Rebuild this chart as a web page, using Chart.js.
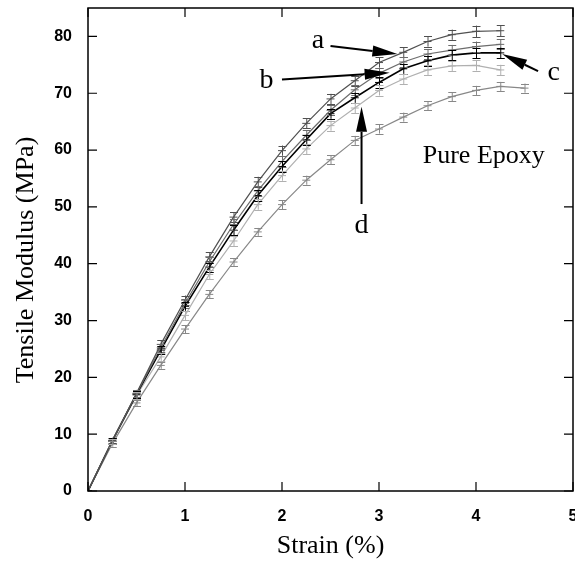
<!DOCTYPE html>
<html>
<head>
<meta charset="utf-8">
<script src="https://cdn.jsdelivr.net/npm/chart.js@4.4.1/dist/chart.umd.min.js"></script>
<style>
  html, body { margin: 0; padding: 0; background: #fff; }
</style>
</head>
<body>
<canvas id="chart" width="575" height="568"></canvas>
<script>
// strain (%) steps
const strain = [0, 0.25, 0.5, 0.75, 1, 1.25, 1.5, 1.75, 2, 2.25, 2.5, 2.75, 3, 3.25, 3.5, 3.75, 4, 4.25];
const strainEpoxy = [0, 0.25, 0.5, 0.75, 1, 1.25, 1.5, 1.75, 2, 2.25, 2.5, 2.75, 3, 3.25, 3.5, 3.75, 4, 4.25, 4.5];

// tensile modulus (MPa)
const modA = [0, 8.9, 17.2, 25.8, 33.6, 41.2, 48.2, 54.4, 59.9, 64.7, 69.0, 72.2, 75.4, 77.2, 79.1, 80.3, 80.9, 81.0];
const modB = [0, 8.8, 17.1, 25.2, 33.0, 40.3, 46.9, 52.8, 58.0, 62.6, 67.0, 70.6, 73.5, 75.5, 76.9, 77.6, 78.2, 78.6];
const modC = [0, 8.8, 17.0, 24.8, 32.5, 39.4, 45.9, 52.0, 57.1, 61.8, 66.4, 69.2, 71.9, 74.3, 75.7, 76.7, 77.1, 77.1];
const modD = [0, 8.7, 16.8, 23.6, 30.9, 38.1, 44.0, 50.4, 55.5, 60.2, 64.3, 67.4, 70.5, 72.5, 74.1, 74.8, 74.9, 74.1];
const modEpoxy = [0, 8.3, 15.5, 22.1, 28.5, 34.6, 40.3, 45.6, 50.4, 54.7, 58.3, 61.7, 63.7, 65.8, 67.8, 69.4, 70.5, 71.2, 70.9];

// error bar half widths
const errA = [0, 0.5, 0.6, 0.7, 0.8, 0.8, 0.9, 0.9, 0.9, 0.9, 0.9, 0.9, 0.9, 0.9, 0.9, 0.9, 1.0, 1.0];
const errB = [0, 0.5, 0.6, 0.7, 0.8, 0.8, 0.9, 0.9, 0.9, 0.9, 0.9, 0.9, 0.9, 0.9, 0.9, 0.9, 0.9, 0.9];
const errC = [0, 0.5, 0.6, 0.7, 0.8, 0.8, 0.9, 0.9, 0.9, 0.9, 0.9, 0.9, 0.9, 0.9, 0.9, 0.9, 0.9, 0.9];
const errD = [0, 0.5, 0.6, 0.7, 0.8, 0.8, 0.9, 0.9, 0.9, 0.9, 0.9, 0.9, 0.9, 0.9, 0.9, 0.9, 0.9, 0.9];
const errEpoxy = [0, 0.5, 0.6, 0.6, 0.7, 0.7, 0.7, 0.7, 0.8, 0.8, 0.8, 0.8, 0.8, 0.8, 0.8, 0.8, 0.8, 0.8, 0.8];

const xTicks = [0, 1, 2, 3, 4, 5];
const yTicks = [0, 10, 20, 30, 40, 50, 60, 70, 80];

// labels and arrows, in data units
const notes = [
  { text: "a", at: [2.37, 78.0], from: [2.50, 78.3], to: [3.19, 76.9] },
  { text: "b", at: [1.84, 71.0], from: [2.00, 72.4], to: [3.11, 73.6] },
  { text: "c", at: [4.80, 72.4], from: [4.64, 73.9], to: [4.27, 76.9] },
  { text: "d", at: [2.82, 45.4], from: [2.82, 50.5], to: [2.82, 67.6] },
  { text: "Pure Epoxy", at: [4.08, 57.7] }
];

function pts(xs, ys) {
  return xs.map((x, i) => ({ x: x, y: ys[i] }));
}

function ds(label, xs, ys, err, color, width) {
  return {
    label: label,
    data: pts(xs, ys),
    err: err,
    borderColor: color,
    backgroundColor: color,
    borderWidth: width,
    pointStyle: "line",
    pointRadius: 4,
    pointBorderWidth: 1,
    pointBorderColor: color,
    tension: 0,
    showLine: true,
    fill: false
  };
}

function noPad(s) {
  s.paddingTop = 0;
  s.paddingBottom = 0;
  s.paddingLeft = 0;
  s.paddingRight = 0;
}

const errorBars = {
  id: "errorBars",
  afterDatasetsDraw(chart) {
    const ctx = chart.ctx;
    const y = chart.scales.y;
    chart.data.datasets.forEach((d, i) => {
      const meta = chart.getDatasetMeta(i);
      ctx.save();
      ctx.strokeStyle = d.borderColor;
      ctx.lineWidth = 1;
      meta.data.forEach((p, j) => {
        const e = d.err[j];
        if (!e) return;
        const v = d.data[j].y;
        const top = y.getPixelForValue(v + e);
        const bot = y.getPixelForValue(v - e);
        ctx.beginPath();
        ctx.moveTo(p.x + 0.5, top);
        ctx.lineTo(p.x + 0.5, bot);
        ctx.moveTo(p.x - 3.5, Math.round(top) + 0.5);
        ctx.lineTo(p.x + 4.5, Math.round(top) + 0.5);
        ctx.moveTo(p.x - 3.5, Math.round(bot) + 0.5);
        ctx.lineTo(p.x + 4.5, Math.round(bot) + 0.5);
        ctx.stroke();
      });
      ctx.restore();
    });
  }
};

const frame = {
  id: "frame",
  afterDraw(chart) {
    const ctx = chart.ctx;
    const a = chart.chartArea;
    const xs = chart.scales.x;
    const ys = chart.scales.y;
    ctx.save();
    ctx.strokeStyle = "#000";
    ctx.lineWidth = 1.5;
    ctx.strokeRect(a.left, a.top, a.right - a.left, a.bottom - a.top);
    ctx.lineWidth = 1.2;
    ctx.beginPath();
    xTicks.forEach(t => {
      const px = xs.getPixelForValue(t);
      ctx.moveTo(px, a.bottom); ctx.lineTo(px, a.bottom - 9);
      ctx.moveTo(px, a.top); ctx.lineTo(px, a.top + 9);
    });
    yTicks.forEach(t => {
      const py = ys.getPixelForValue(t);
      ctx.moveTo(a.left, py); ctx.lineTo(a.left + 9, py);
      ctx.moveTo(a.right, py); ctx.lineTo(a.right - 9, py);
    });
    ctx.stroke();

    // y axis title, set a little below the middle as in the source
    ctx.fillStyle = "#000";
    ctx.save();
    ctx.translate(33, 260);
    ctx.rotate(-Math.PI / 2);
    ctx.textAlign = "center";
    ctx.textBaseline = "alphabetic";
    ctx.font = "26px 'Liberation Serif'";
    ctx.fillText("Tensile Modulus (MPa)", 0, 0);
    ctx.restore();

    // annotations
    ctx.textAlign = "center";
    ctx.textBaseline = "alphabetic";
    notes.forEach(n => {
      ctx.font = n.text.length > 1 ? "26px 'Liberation Serif'" : "28px 'Liberation Serif'";
      ctx.fillText(n.text, xs.getPixelForValue(n.at[0]), ys.getPixelForValue(n.at[1]));
      if (!n.from) return;
      const x0 = xs.getPixelForValue(n.from[0]), y0 = ys.getPixelForValue(n.from[1]);
      const x1 = xs.getPixelForValue(n.to[0]), y1 = ys.getPixelForValue(n.to[1]);
      const ang = Math.atan2(y1 - y0, x1 - x0);
      const hl = 25, hw = 5.5;
      const bx = x1 - hl * Math.cos(ang), by = y1 - hl * Math.sin(ang);
      ctx.lineWidth = 2;
      ctx.beginPath();
      ctx.moveTo(x0, y0);
      ctx.lineTo(bx, by);
      ctx.stroke();
      ctx.beginPath();
      ctx.moveTo(x1, y1);
      ctx.lineTo(bx + hw * Math.sin(ang), by - hw * Math.cos(ang));
      ctx.lineTo(bx - hw * Math.sin(ang), by + hw * Math.cos(ang));
      ctx.closePath();
      ctx.fill();
    });
    ctx.restore();
  }
};

new Chart(document.getElementById("chart"), {
  type: "scatter",
  data: {
    datasets: [
      ds("a", strain, modA, errA, "#505050", 1.2),
      ds("b", strain, modB, errB, "#6c6c6c", 1.2),
      ds("c", strain, modC, errC, "#000000", 1.6),
      ds("d", strain, modD, errD, "#b0b0b0", 1.2),
      ds("Pure Epoxy", strainEpoxy, modEpoxy, errEpoxy, "#888888", 1.2)
    ]
  },
  options: {
    responsive: false,
    animation: false,
    layout: { autoPadding: false, padding: { top: 8, right: 2, left: 0, bottom: 0 } },
    plugins: {
      legend: { display: false },
      tooltip: { enabled: false }
    },
    scales: {
      x: {
        type: "linear",
        min: 0,
        max: 5,
        afterFit(s) { s.height = 77; noPad(s); },
        afterBuildTicks(s) { s.ticks = xTicks.map(v => ({ value: v })); },
        grid: { display: false, drawTicks: false },
        border: { display: false },
        ticks: {
          padding: 16,
          color: "#000",
          font: { family: "'Liberation Sans', Arial, sans-serif", size: 16, weight: "bold" }
        },
        title: {
          display: true,
          text: "Strain (%)",
          color: "#000",
          padding: { top: 0, bottom: 6 },
          font: { family: "'Liberation Serif', 'Times New Roman', serif", size: 26 }
        }
      },
      y: {
        type: "linear",
        min: 0,
        max: 85,
        afterFit(s) { s.width = 88; noPad(s); },
        afterBuildTicks(s) { s.ticks = yTicks.map(v => ({ value: v })); },
        grid: { display: false, drawTicks: false },
        border: { display: false },
        ticks: {
          padding: 16,
          color: "#000",
          font: { family: "'Liberation Sans', Arial, sans-serif", size: 16, weight: "bold" }
        },
        title: { display: false }
      }
    }
  },
  plugins: [errorBars, frame]
});
</script>
</body>
</html>
